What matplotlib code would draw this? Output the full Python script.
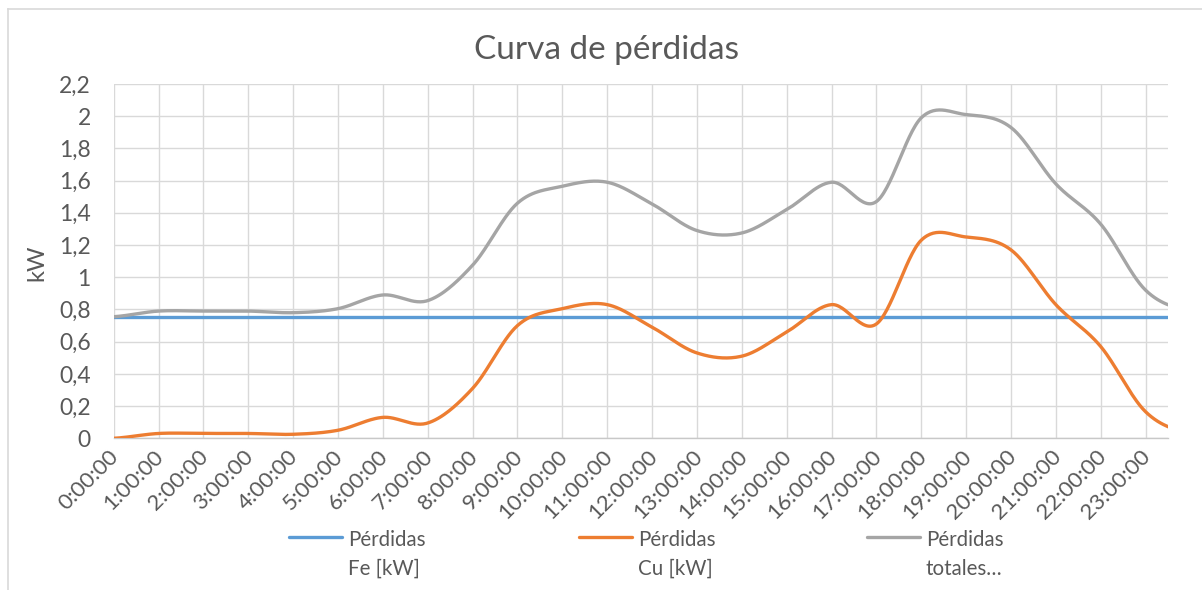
import numpy as np
import matplotlib
matplotlib.use("Agg")
import matplotlib.pyplot as plt
from matplotlib.lines import Line2D
from matplotlib.transforms import ScaledTranslation

# ---- data -------------------------------------------------------------
hours = ["0:00:00", "1:00:00", "2:00:00", "3:00:00", "4:00:00", "5:00:00",
         "6:00:00", "7:00:00", "8:00:00", "9:00:00", "10:00:00", "11:00:00",
         "12:00:00", "13:00:00", "14:00:00", "15:00:00", "16:00:00", "17:00:00",
         "18:00:00", "19:00:00", "20:00:00", "21:00:00", "22:00:00", "23:00:00"]
# last value is the point after 23:00:00 (only its approach is visible)
perdidas_fe = [0.755, 0.755, 0.755, 0.755, 0.755, 0.755, 0.755, 0.755, 0.755,
               0.755, 0.755, 0.755, 0.755, 0.755, 0.755, 0.755, 0.755, 0.755,
               0.755, 0.755, 0.755, 0.755, 0.755, 0.755, 0.755]
perdidas_cu = [0.00, 0.03, 0.03, 0.03, 0.025, 0.05, 0.13, 0.095, 0.31, 0.70,
               0.805, 0.83, 0.69, 0.53, 0.51, 0.66, 0.83, 0.71, 1.23, 1.25,
               1.17, 0.83, 0.57, 0.165, 0.03]
perdidas_tot = [0.755, 0.79, 0.79, 0.79, 0.78, 0.805, 0.89, 0.855, 1.075, 1.46,
                1.565, 1.59, 1.455, 1.29, 1.275, 1.42, 1.59, 1.47, 1.99, 2.01,
                1.93, 1.58, 1.33, 0.92, 0.79]
legend_lines = [["Pérdidas", "Fe [kW]"], ["Pérdidas", "Cu [kW]"], ["Pérdidas", "totales…"]]
yticks = [0, 0.2, 0.4, 0.6, 0.8, 1.0, 1.2, 1.4, 1.6, 1.8, 2.0, 2.2]

colors = ["#5B9BD5", "#ED7D31", "#A5A5A5"]
txt = "#595959"
FONT = ["Lato", "DejaVu Sans"]
plt.rcParams["font.family"] = FONT


def smooth(y, n=30):
    """Excel-like smoothed line (Catmull-Rom Bezier through the points)."""
    y = np.asarray(y, float)
    N = len(y)
    m = np.empty(N)
    m[1:-1] = (y[2:] - y[:-2]) / 2
    m[0] = (y[1] - y[0]) / 2
    m[-1] = (y[-1] - y[-2]) / 2
    t = np.linspace(0, 1, n, endpoint=False)
    xs, ys = [], []
    for i in range(N - 1):
        p0, p3 = y[i], y[i + 1]
        c1, c2 = p0 + m[i] / 3, p3 - m[i + 1] / 3
        b = (1 - t) ** 3 * p0 + 3 * (1 - t) ** 2 * t * c1 + 3 * (1 - t) * t ** 2 * c2 + t ** 3 * p3
        xs.append(i + t)
        ys.append(b)
    xs.append([N - 1])
    ys.append([y[-1]])
    return np.concatenate(xs), np.concatenate(ys)


W, H = 1202, 590
fig = plt.figure(figsize=(W / 100, H / 100), dpi=100)
L, R, T, B = 113.7, 1168, 84, 438.3
ax = fig.add_axes([L / W, 1 - B / H, (R - L) / W, (B - T) / H])

for vals, c in zip([perdidas_fe, perdidas_cu, perdidas_tot], colors):
    xs, ys = smooth(vals)
    ax.plot(xs, ys, color=c, lw=2.4, solid_capstyle="round", zorder=3)

ax.set_xlim(0, 23.5)
ax.set_ylim(0, 2.2)
ax.set_yticks(yticks)
ax.set_yticklabels([("%g" % v).replace(".", ",") for v in yticks])
ax.set_xticks(np.arange(len(hours)))
ax.set_xticklabels(hours, rotation=45, ha="right", va="top", rotation_mode="anchor")
ax.grid(True, color="#D9D9D9", lw=1.0, zorder=0)
ax.set_axisbelow(True)
for s in ["left", "right", "top"]:
    ax.spines[s].set_visible(False)
ax.spines["bottom"].set_color("#C8C8C8")
ax.spines["bottom"].set_linewidth(1.0)
ax.tick_params(axis="both", length=0, labelcolor=txt)
ax.tick_params(axis="y", pad=16.5, labelsize=16.5)
ax.tick_params(axis="x", pad=6, labelsize=16)
shift = ScaledTranslation(-5 / 100, 0, fig.dpi_scale_trans)
for lab in ax.get_xticklabels():
    lab.set_transform(lab.get_transform() + shift)

fig.text(607 / W, 1 - 59 / H, "Curva de pérdidas", ha="center", va="baseline",
         fontsize=24, color=txt)
fig.text(37 / W, 1 - 263 / H, "kW", ha="center", va="center", rotation=90,
         fontsize=17, color=txt)

# legend
hx = [289, 579, 867]
for x0, c, lines in zip(hx, colors, legend_lines):
    fig.add_artist(Line2D([x0 / W, (x0 + 53) / W], [1 - 537 / H, 1 - 537 / H],
                          color=c, lw=2.4, solid_capstyle="round"))
    fig.text((x0 + 59) / W, 1 - 546 / H, lines[0], ha="left", va="baseline",
             fontsize=14.8, color=txt)
    fig.text((x0 + 59) / W, 1 - 575 / H, lines[1], ha="left", va="baseline",
             fontsize=14.8, color=txt)

# chart area border (partially visible)
fig.add_artist(Line2D([8 / W, 8 / W], [0, 1 - 9 / H], color="#D9D9D9", lw=1.2))
fig.add_artist(Line2D([8 / W, 1], [1 - 9 / H, 1 - 9 / H], color="#D9D9D9", lw=1.2))

fig.savefig("out.png", dpi=100)
